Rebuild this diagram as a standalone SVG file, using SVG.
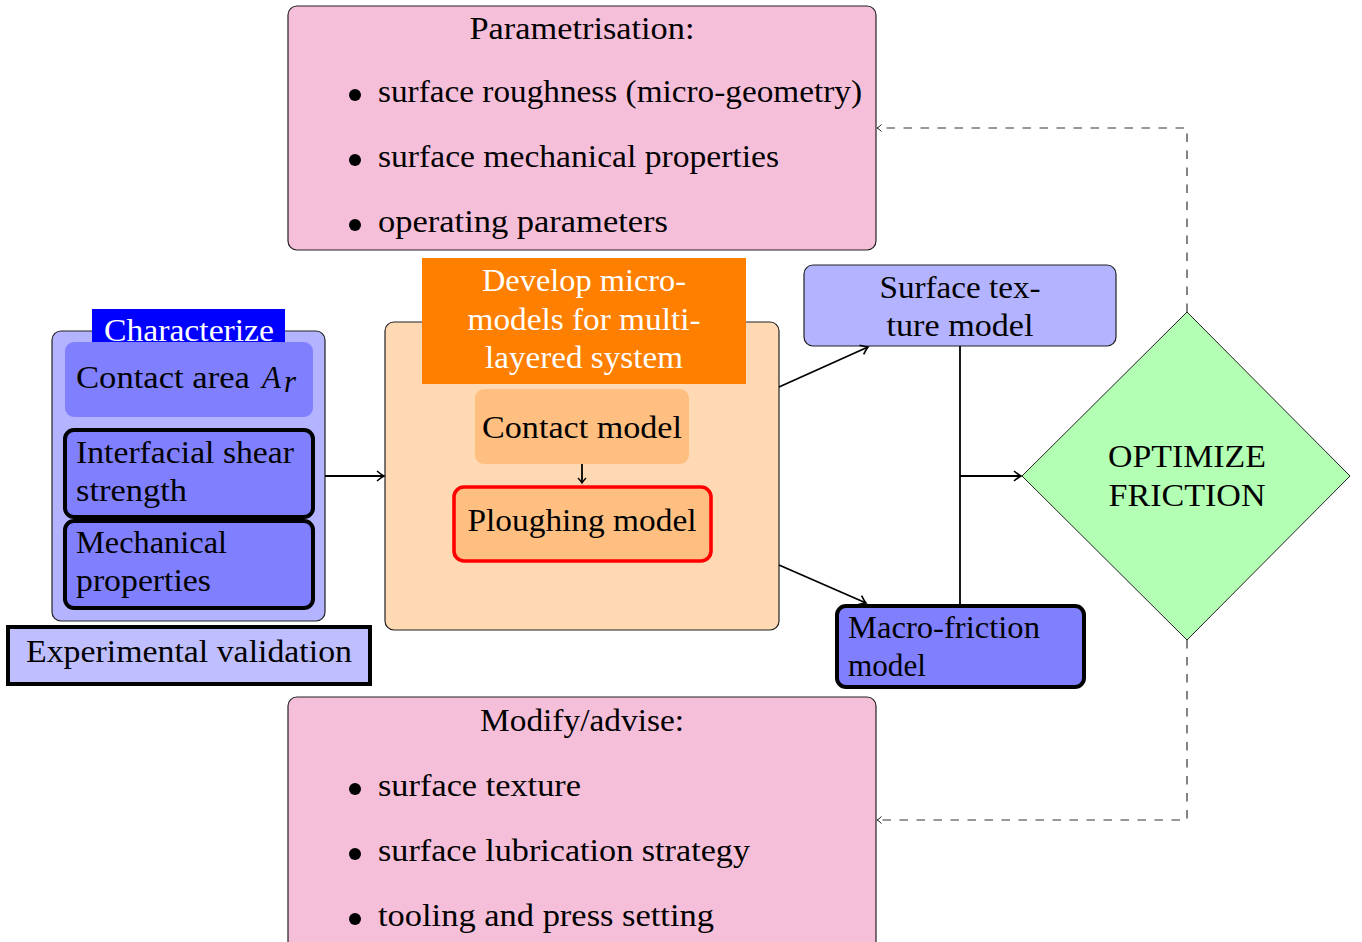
<svg xmlns="http://www.w3.org/2000/svg" width="1362" height="942" viewBox="0 0 1362 942">
  <style>
    text { font-family: "Liberation Serif", "Times New Roman", serif; font-size: 31px; fill: #000; }
    .c { text-anchor: middle; }
    .w { fill: #fff; }
    .it { font-style: italic; }
    .frame { stroke: #222; stroke-width: 1.2; }
    .bold { stroke: #000; stroke-width: 4; }
    .pink { fill: #f6bfd9; }
    .conn { fill: none; stroke: #000; stroke-width: 1.8; }
    .dash { fill: none; stroke: #333; stroke-width: 1.2; stroke-dasharray: 8.5 8.5; }
  </style>
  <defs>
    <marker id="arr" viewBox="-8 -6 10 12" refX="0" refY="0" markerWidth="10" markerHeight="12" markerUnits="userSpaceOnUse" orient="auto">
      <path d="M-7,-5 Q-2.5,-1.2 0,0 Q-2.5,1.2 -7,5" fill="none" stroke="#000" stroke-width="1.6"/>
    </marker>
    <marker id="arrs" viewBox="-6 -5 8 10" refX="0" refY="0" markerWidth="8" markerHeight="10" markerUnits="userSpaceOnUse" orient="auto">
      <path d="M-5,-4 Q-1.8,-0.9 0,0 Q-1.8,0.9 -5,4" fill="none" stroke="#000" stroke-width="1.4"/>
    </marker>
    <marker id="arrd" viewBox="-6 -5 8 10" refX="0" refY="0" markerWidth="8" markerHeight="10" markerUnits="userSpaceOnUse" orient="auto">
      <path d="M-4.5,-3.5 Q-1.8,-0.8 0,0 Q-1.8,0.8 -4.5,3.5" fill="none" stroke="#222" stroke-width="1"/>
    </marker>
  </defs>

  <rect width="1362" height="942" fill="#fff"/>

  <!-- parametrisation list -->
  <g id="parametrisation">
    <rect class="pink frame" x="288" y="6" width="588" height="244" rx="9"/>
    <text class="c" x="582" y="39" textLength="225" lengthAdjust="spacingAndGlyphs">Parametrisation:</text>
    <circle cx="355" cy="95" r="6"/>
    <text x="378" y="102" textLength="484" lengthAdjust="spacingAndGlyphs">surface roughness (micro-geometry)</text>
    <circle cx="355" cy="160" r="6"/>
    <text x="378" y="167" textLength="401" lengthAdjust="spacingAndGlyphs">surface mechanical properties</text>
    <circle cx="355" cy="225" r="6"/>
    <text x="378" y="232" textLength="290" lengthAdjust="spacingAndGlyphs">operating parameters</text>
  </g>

  <!-- characterisation block -->
  <g id="characterize">
    <rect x="52" y="331" width="273" height="290" rx="9" fill="#b3b3ff" class="frame"/>
    <rect x="92" y="309" width="193" height="43" fill="#0000ff"/>
    <text class="c w" x="189" y="341" textLength="170" lengthAdjust="spacingAndGlyphs">Characterize</text>
  </g>
  <g id="contact-area">
    <rect x="65" y="342" width="248" height="75" rx="9" fill="#8080ff"/>
    <text x="76" y="388" textLength="174" lengthAdjust="spacingAndGlyphs">Contact area</text>
    <text class="it" x="262" y="388">A</text>
    <text class="it" x="284" y="392" font-size="21">r</text>
  </g>
  <g id="shear-strength">
    <rect class="bold" x="65" y="430" width="248" height="87" rx="9" fill="#8080ff"/>
    <text x="76" y="463" textLength="218" lengthAdjust="spacingAndGlyphs">Interfacial shear</text>
    <text x="76" y="501" textLength="111" lengthAdjust="spacingAndGlyphs">strength</text>
  </g>
  <g id="mechanical-properties">
    <rect class="bold" x="65" y="521" width="248" height="87" rx="9" fill="#8080ff"/>
    <text x="76" y="553" textLength="151" lengthAdjust="spacingAndGlyphs">Mechanical</text>
    <text x="76" y="591" textLength="135" lengthAdjust="spacingAndGlyphs">properties</text>
  </g>
  <g id="experimental-validation">
    <rect class="bold" x="8" y="627" width="362" height="57" fill="#bfbfff"/>
    <text class="c" x="189" y="662" textLength="326" lengthAdjust="spacingAndGlyphs">Experimental validation</text>
  </g>

  <!-- micro-models block -->
  <g id="micro-models">
    <rect x="385" y="322" width="394" height="308" rx="9" fill="#ffd9b3" class="frame"/>
    <rect x="422" y="258" width="324" height="126" fill="#ff8000"/>
    <text class="c w" x="584" y="291" textLength="204" lengthAdjust="spacingAndGlyphs">Develop micro-</text>
    <text class="c w" x="584" y="330" textLength="233" lengthAdjust="spacingAndGlyphs">models for multi-</text>
    <text class="c w" x="584" y="368" textLength="198" lengthAdjust="spacingAndGlyphs">layered system</text>
  </g>
  <g id="contact-model">
    <rect x="475" y="389" width="214" height="75" rx="9" fill="#ffbf80"/>
    <text class="c" x="582" y="438" textLength="200" lengthAdjust="spacingAndGlyphs">Contact model</text>
  </g>
  <g id="ploughing-model">
    <rect x="454" y="487" width="257" height="74" rx="10" fill="#ffbf80" stroke="#ff0000" stroke-width="3.6"/>
    <text class="c" x="582" y="531" textLength="229" lengthAdjust="spacingAndGlyphs">Ploughing model</text>
  </g>

  <!-- right-hand models -->
  <g id="surface-texture">
    <rect x="804" y="265" width="312" height="81" rx="9" fill="#b3b3ff" class="frame"/>
    <text class="c" x="960" y="298" textLength="161" lengthAdjust="spacingAndGlyphs">Surface tex-</text>
    <text class="c" x="960" y="336" textLength="147" lengthAdjust="spacingAndGlyphs">ture model</text>
  </g>
  <g id="macro-friction">
    <rect class="bold" x="837" y="606" width="247" height="81" rx="9" fill="#8080ff"/>
    <text x="848" y="638" textLength="192" lengthAdjust="spacingAndGlyphs">Macro-friction</text>
    <text x="848" y="676" textLength="78" lengthAdjust="spacingAndGlyphs">model</text>
  </g>
  <g id="optimize">
    <polygon points="1187,312 1350,476 1187,640 1022,476" fill="#b3ffb3" stroke="#222" stroke-width="1"/>
    <text class="c" x="1187" y="467" textLength="158" lengthAdjust="spacingAndGlyphs">OPTIMIZE</text>
    <text class="c" x="1187" y="506" textLength="157" lengthAdjust="spacingAndGlyphs">FRICTION</text>
  </g>

  <!-- modify / advise list -->
  <g id="modify-advise">
    <rect class="pink frame" x="288" y="697" width="588" height="260" rx="9"/>
    <text class="c" x="582" y="731" textLength="204" lengthAdjust="spacingAndGlyphs">Modify/advise:</text>
    <circle cx="355" cy="789" r="6"/>
    <text x="378" y="796" textLength="203" lengthAdjust="spacingAndGlyphs">surface texture</text>
    <circle cx="355" cy="854" r="6"/>
    <text x="378" y="861" textLength="372" lengthAdjust="spacingAndGlyphs">surface lubrication strategy</text>
    <circle cx="355" cy="919" r="6"/>
    <text x="378" y="926" textLength="336" lengthAdjust="spacingAndGlyphs">tooling and press setting</text>
  </g>

  <!-- connectors -->
  <g id="connectors">
    <path class="conn" d="M325,476 H384" marker-end="url(#arr)"/>
    <path class="conn" d="M582,464 V483" stroke-width="1.5" marker-end="url(#arrs)"/>
    <path class="conn" d="M779,387 L868,347" marker-end="url(#arr)"/>
    <path class="conn" d="M779,565 L866,603" marker-end="url(#arr)"/>
    <path class="conn" d="M960,346 V606"/>
    <path class="conn" d="M960,476 H1021" marker-end="url(#arr)"/>
    <path class="dash" d="M1187,312 V128 H877" marker-end="url(#arrd)"/>
    <path class="dash" d="M1187,640 V820 H877" marker-end="url(#arrd)"/>
  </g>
</svg>
